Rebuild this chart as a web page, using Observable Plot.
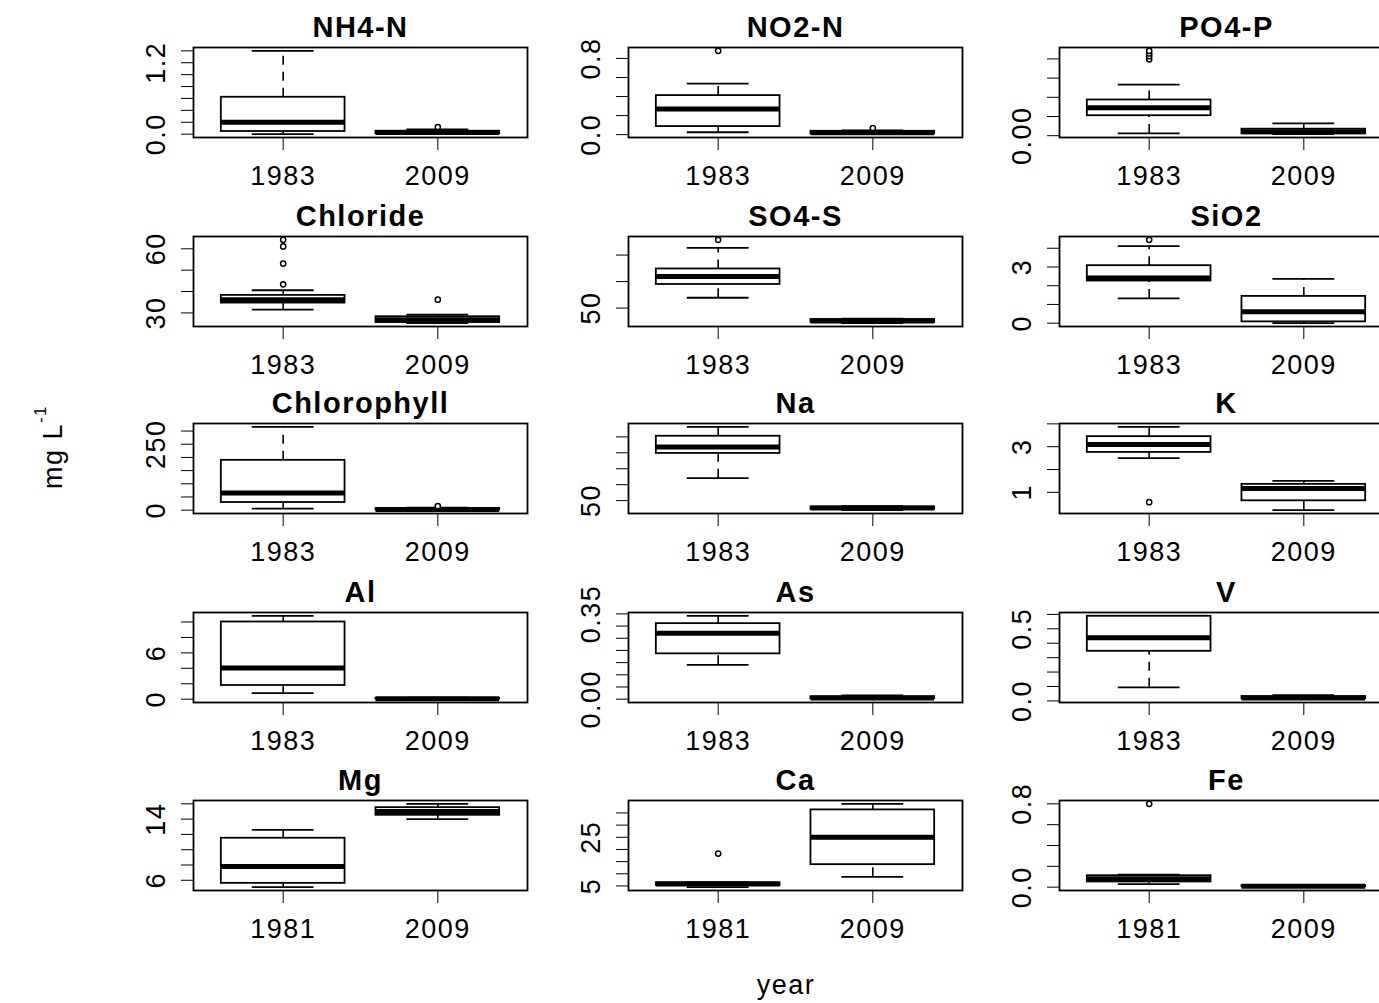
<!DOCTYPE html>
<html>
<head>
<meta charset="utf-8">
<script src="https://cdn.jsdelivr.net/npm/d3@7"></script>
<script src="https://cdn.jsdelivr.net/npm/@observablehq/plot@0.6"></script>
<style>
  body { margin: 0; background: white; }
  #chart { position: relative; width: 1379px; height: 1003px; overflow: hidden; background: white; font-family: "Liberation Sans", Arial, sans-serif; }
  .panel { position: absolute; }
</style>
</head>
<body>
<div id="chart"></div>
<script>
const titles = ["NH4-N", "NO2-N", "PO4-P", "Chloride", "SO4-S", "SiO2", "Chlorophyll", "Na", "K", "Al", "As", "V", "Mg", "Ca", "Fe"];
const groupLabels = [
  ["1983","2009"],["1983","2009"],["1983","2009"],
  ["1983","2009"],["1983","2009"],["1983","2009"],
  ["1983","2009"],["1983","2009"],["1983","2009"],
  ["1983","2009"],["1983","2009"],["1983","2009"],
  ["1981","2009"],["1981","2009"],["1981","2009"]
];
// five-number summaries: [lower whisker, Q1, median, Q3, upper whisker]
const statsFirst = [
  [0.0, 0.045, 0.2, 0.62, 1.4],
  [0.025, 0.085, 0.27, 0.41, 0.535],
  [0.006, 0.052, 0.073, 0.093, 0.133],
  [31.5, 34.6, 36.2, 38.2, 40.6],
  [53.9, 58.9, 61.9, 64.75, 72.75],
  [1.32, 2.25, 2.41, 3.07, 4.11],
  [6, 29, 65, 189, 316],
  [64.1, 79.6, 83.7, 90.4, 96.3],
  [2.5, 2.75, 3.1, 3.44, 3.87],
  [0.78, 1.77, 4.05, 10.0, 10.8],
  [0.141, 0.186, 0.271, 0.31, 0.342],
  [0.094, 0.344, 0.438, 0.587, 0.59],
  [5.1, 5.6, 7.8, 11.5, 12.6],
  [4.5, 5.2, 5.8, 6.3, 6.5],
  [0.03, 0.05, 0.08, 0.11, 0.12]
];
const stats2009 = [
  [0.0, 0.01, 0.03, 0.05, 0.08],
  [0.005, 0.01, 0.02, 0.035, 0.045],
  [0.004, 0.005, 0.01, 0.017, 0.032],
  [25.2, 25.5, 26.8, 28.2, 29.2],
  [44.3, 44.6, 45.1, 45.7, 46.0],
  [0.0, 0.07, 0.61, 1.43, 2.36],
  [0, 1, 3, 6, 10],
  [44.0, 44.5, 45.3, 46.0, 46.5],
  [0.22, 0.63, 1.17, 1.35, 1.5],
  [0.0, 0.02, 0.05, 0.1, 0.2],
  [0.0, 0.002, 0.005, 0.01, 0.015],
  [0.012, 0.015, 0.02, 0.03, 0.04],
  [14.0, 14.5, 15.0, 15.5, 16.0],
  [8.75, 13.75, 25, 36.25, 38.75],
  [0.0, 0.005, 0.01, 0.015, 0.02]
];
const outliersFirst = [[], [0.88], [0.199, 0.207, 0.214, 0.221], [43.4, 53.1, 61.1, 64.2], [75.75], [4.45], [], [], [0.57], [], [], [], [], [18.3], [0.8]];
const outliers2009 = [[0.12], [0.07], [], [36.2], [], [], [15], [], [], [], [], [], [], [], []];
const yTicks = [
  [0, 0.2, 0.4, 0.6, 0.8, 1.0, 1.2, 1.4],
  [0, 0.2, 0.4, 0.6, 0.8],
  [0, 0.05, 0.1, 0.15, 0.2],
  [30, 40, 50, 60],
  [50, 60, 70],
  [0, 1, 2, 3, 4],
  [0, 50, 100, 150, 200, 250, 300],
  [50, 60, 70, 80, 90],
  [1, 2, 3, 4],
  [0, 2, 4, 6, 8, 10],
  [0, 0.05, 0.1, 0.15, 0.2, 0.25, 0.3, 0.35],
  [0, 0.1, 0.2, 0.3, 0.4, 0.5, 0.6],
  [6, 8, 10, 12, 14, 16],
  [5, 10, 15, 20, 25, 30, 35],
  [0, 0.2, 0.4, 0.6, 0.8]
];
const yTickLabels = [
  ["0.0", "", "", "", "", "", "1.2", ""],
  ["0.0", "", "", "", "0.8"],
  ["0.00", "", "", "", ""],
  ["30", "", "", "60"],
  ["50", "", ""],
  ["0", "", "", "3", ""],
  ["0", "", "", "", "", "250", ""],
  ["50", "", "", "", ""],
  ["1", "", "3", ""],
  ["0", "", "", "6", "", ""],
  ["0.00", "", "", "", "", "", "", "0.35"],
  ["0.0", "", "", "", "", "0.5", ""],
  ["6", "", "", "", "14", ""],
  ["5", "", "", "", "25", "", ""],
  ["0.0", "", "", "", "0.8"]
];

const chart = document.getElementById("chart");
const W = 334, H = 90;
const colX = [193, 628, 1059];
const rowY = [47, 236, 423, 612, 800];
const mL = 80, mR = 20, mT = 47, mB = 60;
const FONT = "'Liberation Sans', Arial, Helvetica, sans-serif";

titles.forEach((title, i) => {
  const r = Math.floor(i / 3), c = i % 3;
  const sets = [statsFirst[i], stats2009[i]];
  const boxes = sets.map((s, k) => ({g: k + 1, lo: s[0], q1: s[1], med: s[2], q3: s[3], hi: s[4], label: groupLabels[i][k]}));
  const outs = [
    ...outliersFirst[i].map(v => ({g: 1, v})),
    ...outliers2009[i].map(v => ({g: 2, v}))
  ];
  const vals = [...boxes.flatMap(b => [b.lo, b.hi]), ...outs.map(o => o.v)];
  const lo = d3.min(vals), hi = d3.max(vals), pad = (hi - lo) * 0.04;
  const ticks = yTicks[i];
  const tickData = ticks.map((v, k) => ({v, t: yTickLabels[i][k]}));
  const plot = Plot.plot({
    width: mL + W + mR, height: mT + H + mB,
    marginLeft: mL, marginRight: mR, marginTop: mT, marginBottom: mB,
    style: {fontFamily: FONT, background: "transparent", overflow: "visible", color: "black"},
    x: {domain: [0.42, 2.58], ticks: [1, 2], tickSize: 13, tickFormat: () => "", label: null},
    y: {domain: [lo - pad, hi + pad], ticks, tickSize: 12, tickFormat: () => "", label: null},
    marks: [
      Plot.ruleX(boxes, {x: "g", y1: "q3", y2: "hi", stroke: "black", strokeWidth: 1.6, strokeDasharray: "9,7"}),
      Plot.ruleX(boxes, {x: "g", y1: "lo", y2: "q1", stroke: "black", strokeWidth: 1.6, strokeDasharray: "9,7"}),
      Plot.ruleY(boxes, {y: "hi", x1: d => d.g - 0.2, x2: d => d.g + 0.2, stroke: "black", strokeWidth: 1.8}),
      Plot.ruleY(boxes, {y: "lo", x1: d => d.g - 0.2, x2: d => d.g + 0.2, stroke: "black", strokeWidth: 1.8}),
      Plot.rect(boxes, {x1: d => d.g - 0.4, x2: d => d.g + 0.4, y1: "q1", y2: "q3", fill: "white", stroke: "black", strokeWidth: 1.8}),
      Plot.ruleY(boxes, {y: "med", x1: d => d.g - 0.4, x2: d => d.g + 0.4, stroke: "black", strokeWidth: 5}),
      Plot.dot(outs, {x: "g", y: "v", r: 2.6, stroke: "black", fill: "white", strokeWidth: 1.5}),
      Plot.frame({stroke: "black", strokeWidth: 1.8}),
      Plot.text(tickData, {y: "v", text: "t", frameAnchor: "left", dx: -37, rotate: -90, fontSize: 27, textAnchor: "middle", lineAnchor: "middle", fill: "black"}),
      Plot.text(boxes, {x: "g", text: "label", frameAnchor: "bottom", dy: 39, fontSize: 27, textAnchor: "middle", lineAnchor: "middle", fill: "black"}),
      Plot.text([title], {text: d => d, frameAnchor: "top", dy: -20, fontSize: 29, fontWeight: "bold", textAnchor: "middle", lineAnchor: "middle", fill: "black"})
    ]
  });
  plot.classList.add("panel");
  plot.style.left = (colX[c] - mL) + "px";
  plot.style.top = (rowY[r] - mT) + "px";
  plot.style.letterSpacing = "1.5px";
  chart.appendChild(plot);
});

const yl = document.createElement("div");
yl.innerHTML = 'mg L<sup style="font-size:17px;vertical-align:0.9em;">-1</sup>';
Object.assign(yl.style, {position: "absolute", left: "50px", top: "447px", transform: "translate(-50%,-50%) rotate(-90deg)", fontSize: "27px", whiteSpace: "nowrap", fontFamily: FONT, letterSpacing: "1.5px"});
chart.appendChild(yl);

const xl = document.createElement("div");
xl.textContent = "year";
Object.assign(xl.style, {position: "absolute", left: "786px", top: "985px", transform: "translate(-50%,-50%)", fontSize: "27px", whiteSpace: "nowrap", fontFamily: FONT, letterSpacing: "1.5px"});
chart.appendChild(xl);
</script>
</body>
</html>
